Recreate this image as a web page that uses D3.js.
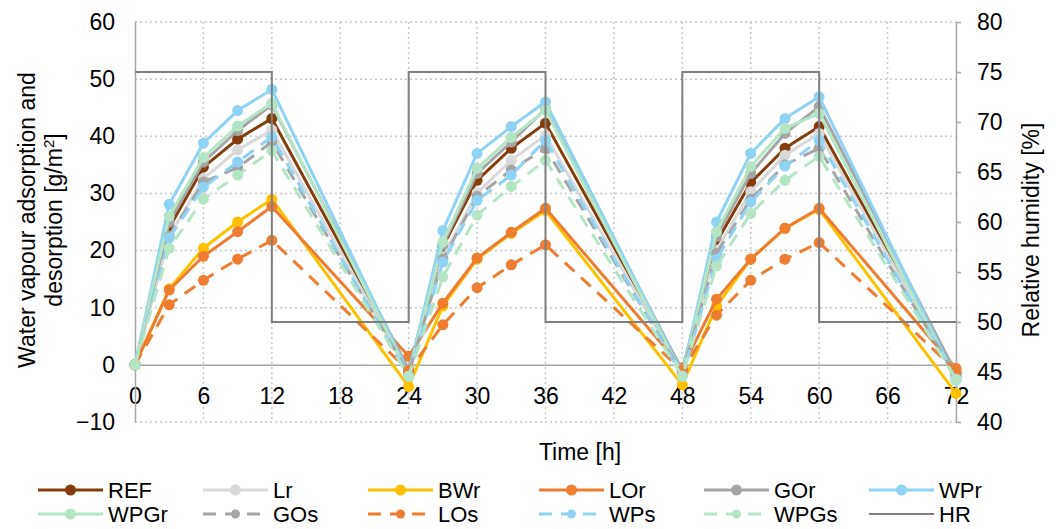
<!DOCTYPE html>
<html><head><meta charset="utf-8">
<script src="https://cdn.jsdelivr.net/npm/d3@7"></script>
<style>
body{margin:0;background:#fff;}
svg text{font-family:"Liberation Sans",Arial,sans-serif;fill:#000;}
</style></head>
<body><svg id="c" width="1059" height="529"></svg>
<script>
const time = [0,3,6,9,12,24,27,30,33,36,48,51,54,57,60,72];
const REF  = [0,24.0,34.6,39.5,43.1,-1.0,20.7,32.3,37.9,42.3,-1.0,21.5,31.9,37.9,41.7,-1.5];
const Lr   = [0,22.5,32.6,37.6,41.1,-1.5,18.9,30.1,35.8,40.2,-1.5,20.1,30.3,36.7,40.5,-2.0];
const BWr  = [0,13.3,20.4,25.0,29.0,-3.8,10.3,18.5,23.0,27.0,-3.5,10.3,18.5,23.9,27.2,-5.0];
const LOr  = [0,13.1,19.0,23.3,27.7,1.5,10.8,18.7,23.2,27.4,-0.5,11.5,18.5,23.9,27.4,-0.6];
const GOr  = [0,25.0,35.5,41.0,45.5,-0.8,21.0,33.5,39.0,44.8,-1.0,22.5,33.5,40.5,45.2,-1.5];
const WPr  = [0,28.1,38.8,44.5,48.2,-1.5,23.5,37.0,41.7,46.0,-1.5,25.0,37.0,43.1,46.9,-2.5];
const WPGr = [0,26.0,36.3,41.8,45.8,-1.8,21.5,34.4,39.8,44.6,-1.8,23.3,34.7,41.4,44.0,-2.7];
const GOs  = [0,22.5,32.0,34.5,39.0,-1.5,18.5,29.5,34.1,37.9,-1.5,19.5,29.0,35.0,37.9,-2.0];
const LOs  = [0,10.5,14.8,18.5,21.8,-1.0,7.0,13.5,17.5,21.0,-1.0,8.7,14.8,18.5,21.4,-1.0];
const WPs  = [0,22.2,31.1,35.5,39.9,-2.0,18.0,28.8,33.2,39.3,-2.0,18.5,28.5,34.8,39.3,-2.5];
const WPGs = [0,20.4,29.0,33.2,37.5,-2.0,15.4,26.2,31.2,35.8,-2.0,17.3,26.5,32.3,36.5,-2.5];
const hrTime = [0,12,12,24,24,36,36,48,48,60,60,72];
const HR     = [75,75,50,50,75,75,50,50,75,75,50,50];
const xTicks = [0,6,12,18,24,30,36,42,48,54,60,66,72];
const yLeftTicks = [-10,0,10,20,30,40,50,60];
const yRightTicks = [40,45,50,55,60,65,70,75,80];

const series = [
  {name:"REF", v:REF, c:"#843C0C", dash:null},
  {name:"Lr", v:Lr, c:"#D9D9D9", dash:null},
  {name:"BWr", v:BWr, c:"#FFC000", dash:null},
  {name:"LOr", v:LOr, c:"#ED7D31", dash:null},
  {name:"GOr", v:GOr, c:"#A5A5A5", dash:null},
  {name:"WPr", v:WPr, c:"#8ED3F4", dash:null},
  {name:"WPGr", v:WPGr, c:"#B4E5C4", dash:null},
  {name:"GOs", v:GOs, c:"#A5A5A5", dash:"13,9"},
  {name:"LOs", v:LOs, c:"#ED7D31", dash:"13,9"},
  {name:"WPs", v:WPs, c:"#8ED3F4", dash:"13,9"},
  {name:"WPGs", v:WPGs, c:"#B4E5C4", dash:"13,9"}
];

const svg = d3.select("#c");
const L=135, R=956, T=22, B=422;
const x = d3.scaleLinear().domain([0,72]).range([L,R]);
const yL = d3.scaleLinear().domain([-10,60]).range([B,T]);
const yR = d3.scaleLinear().domain([40,80]).range([B,T]);

// gridlines
const g = svg.append("g");
g.selectAll(".hg").data(yLeftTicks.filter(d=>d!==0)).enter().append("line")
  .attr("x1",L).attr("x2",R).attr("y1",d=>yL(d)).attr("y2",d=>yL(d))
  .attr("stroke","#C8C8C8").attr("stroke-width",1.5).attr("stroke-dasharray","2,3");
g.selectAll(".vg").data(xTicks.filter(d=>d!==0&&d!==72)).enter().append("line")
  .attr("x1",d=>x(d)).attr("x2",d=>x(d)).attr("y1",T).attr("y2",B)
  .attr("stroke","#C8C8C8").attr("stroke-width",1.5).attr("stroke-dasharray","2,3");

// axes
const ax = svg.append("g").attr("transform",`translate(0,${yL(0)})`)
  .call(d3.axisBottom(x).tickValues(xTicks).tickSize(0).tickPadding(23));
ax.select(".domain").attr("stroke","#A6A6A6").attr("stroke-width",1.5);
ax.selectAll("text").attr("font-size",23);

const al = svg.append("g").attr("transform",`translate(${L},0)`)
  .call(d3.axisLeft(yL).tickValues(yLeftTicks).tickSize(0).tickPadding(20).tickFormat(d=>d<0?"\u2212"+Math.abs(d):d));
al.select(".domain").attr("stroke","#A6A6A6").attr("stroke-width",1.5);
al.selectAll("text").attr("font-size",23);

const ar = svg.append("g").attr("transform",`translate(${R},0)`)
  .call(d3.axisRight(yR).tickValues(yRightTicks).tickSize(5).tickSizeOuter(0).tickPadding(16));
ar.select(".domain").attr("stroke","#A6A6A6").attr("stroke-width",1.5);
ar.selectAll(".tick line").attr("stroke","#A6A6A6").attr("stroke-width",1.5);
ar.selectAll("text").attr("font-size",23);

// series
const line = d3.line().x((d,i)=>x(time[i])).y(d=>yL(d));
series.forEach(s=>{
  const gs = svg.append("g");
  gs.append("path").attr("d",line(s.v)).attr("fill","none").attr("stroke",s.c)
    .attr("stroke-width",3).attr("stroke-dasharray",s.dash).attr("stroke-linejoin","round");
  gs.selectAll("circle").data(s.v).enter().append("circle")
    .attr("cx",(d,i)=>x(time[i])).attr("cy",d=>yL(d)).attr("r",5.5).attr("fill",s.c);
});
// HR
const hrLine = d3.line().x((d,i)=>x(hrTime[i])).y(d=>yR(d));
svg.append("path").attr("d",hrLine(HR)).attr("fill","none").attr("stroke","#7F7F7F").attr("stroke-width",2);

// titles
svg.append("text").attr("x",580).attr("y",460).attr("text-anchor","middle").attr("font-size",23).text("Time [h]");
const lt = svg.append("text").attr("transform","translate(35,220) rotate(-90)").attr("text-anchor","middle").attr("font-size",23);
lt.append("tspan").attr("x",0).attr("y",0).text("Water vapour adsorption and");
const t2 = lt.append("tspan").attr("x",0).attr("y",27).text("desorption [g/m");
t2.append("tspan").attr("font-size",15).attr("dy",-8).text("2");
lt.append("tspan").attr("dy",8).text("]");
svg.append("text").attr("transform","translate(1039,230) rotate(-90)").attr("text-anchor","middle").attr("font-size",23).text("Relative humidity [%]");

// legend
const legItems = series.concat([{name:"HR", c:"#7F7F7F", dash:null, hr:true}]);
const colX = [38,203,368,539,704,869];
const rowY = [490,514];
legItems.forEach((s,i)=>{
  const cx = colX[i%6], cy = rowY[Math.floor(i/6)];
  const lg = svg.append("g");
  lg.append("line").attr("x1",cx).attr("x2",cx+65).attr("y1",cy).attr("y2",cy)
    .attr("stroke",s.c).attr("stroke-width",s.hr?2:3).attr("stroke-dasharray",s.dash);
  if(!s.hr) lg.append("circle").attr("cx",cx+32.5).attr("cy",cy).attr("r",s.dash?4.5:5.5).attr("fill",s.c);
  lg.append("text").attr("x",cx+70).attr("y",cy).attr("dy","0.36em").attr("font-size",22).text(s.name);
});
</script></body></html>
